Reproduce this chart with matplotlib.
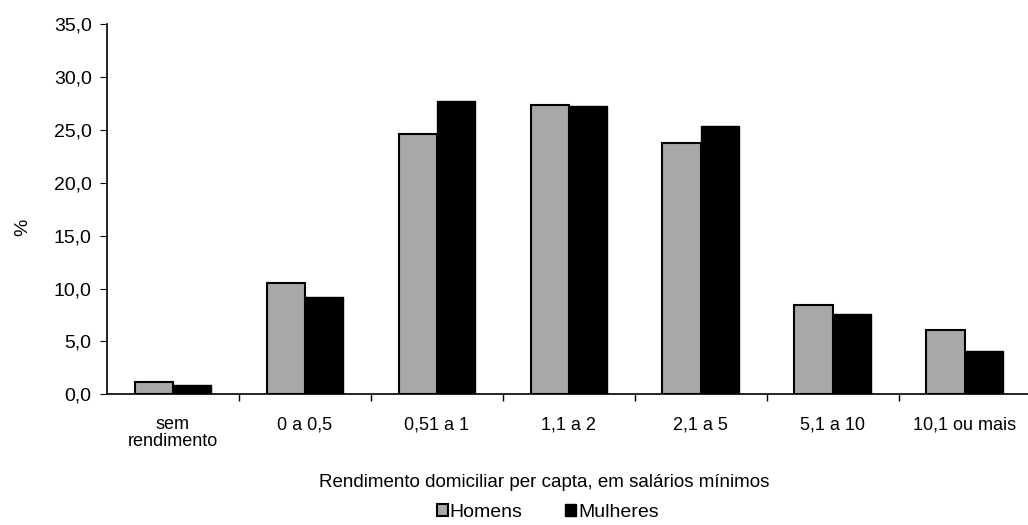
import numpy as np
import matplotlib.pyplot as plt
from matplotlib.ticker import FuncFormatter

categorias = ['sem\nrendimento', '0 a 0,5', '0,51 a 1', '1,1 a 2', '2,1 a 5', '5,1 a 10', '10,1 ou mais']
homens = [1.2, 10.5, 24.6, 27.4, 23.8, 8.4, 6.1]
mulheres = [0.9, 9.2, 27.7, 27.3, 25.4, 7.6, 4.1]

plt.rcParams['font.family'] = ['Liberation Sans', 'DejaVu Sans']

fig = plt.figure(figsize=(10.28, 5.25), dpi=100)
ax = fig.add_axes([0.104, 0.249, 0.896, 0.705])

x = np.arange(len(categorias))
w = 0.29
ax.bar(x - w / 2, homens, w, color='#a8a8a8', edgecolor='black', linewidth=1.5, label='Homens')
ax.bar(x + w / 2, mulheres, w, color='black', edgecolor='black', linewidth=1.0, label='Mulheres')

ax.set_ylim(0, 35)
ax.set_yticks(np.arange(0, 36, 5))
ax.yaxis.set_major_formatter(FuncFormatter(lambda v, p: '{:.1f}'.format(v).replace('.', ',')))
ax.set_xlim(-0.5, 6.48)

# category labels centered, ticks at boundaries
ax.set_xticks(x)
ax.set_xticklabels(categorias, fontsize=13, linespacing=0.95)
ax.tick_params(axis='x', which='major', length=0, pad=16)
ax.set_xticks(np.arange(0.5, 6.5, 1), minor=True)
ax.tick_params(axis='x', which='minor', length=5, direction='out', width=1)
ax.tick_params(axis='y', labelsize=14, length=5, direction='out', pad=6)

ax.spines['top'].set_visible(False)
ax.spines['right'].set_visible(False)
ax.spines['left'].set_linewidth(1.2)
ax.spines['bottom'].set_linewidth(1.2)

ax.set_ylabel('%', fontsize=14)
ax.yaxis.set_label_coords(-0.082, 0.45)
ax.set_xlabel('Rendimento domiciliar per capta, em salários mínimos', fontsize=13.5)
ax.xaxis.set_label_coords(0.475, -0.215)

fig.legend(loc='center', bbox_to_anchor=(0.533, 0.024), ncol=2, frameon=False,
           fontsize=14, handlelength=0.55, handleheight=0.55, handletextpad=0.1, columnspacing=2.2)

fig.savefig('out.png', dpi=100)
